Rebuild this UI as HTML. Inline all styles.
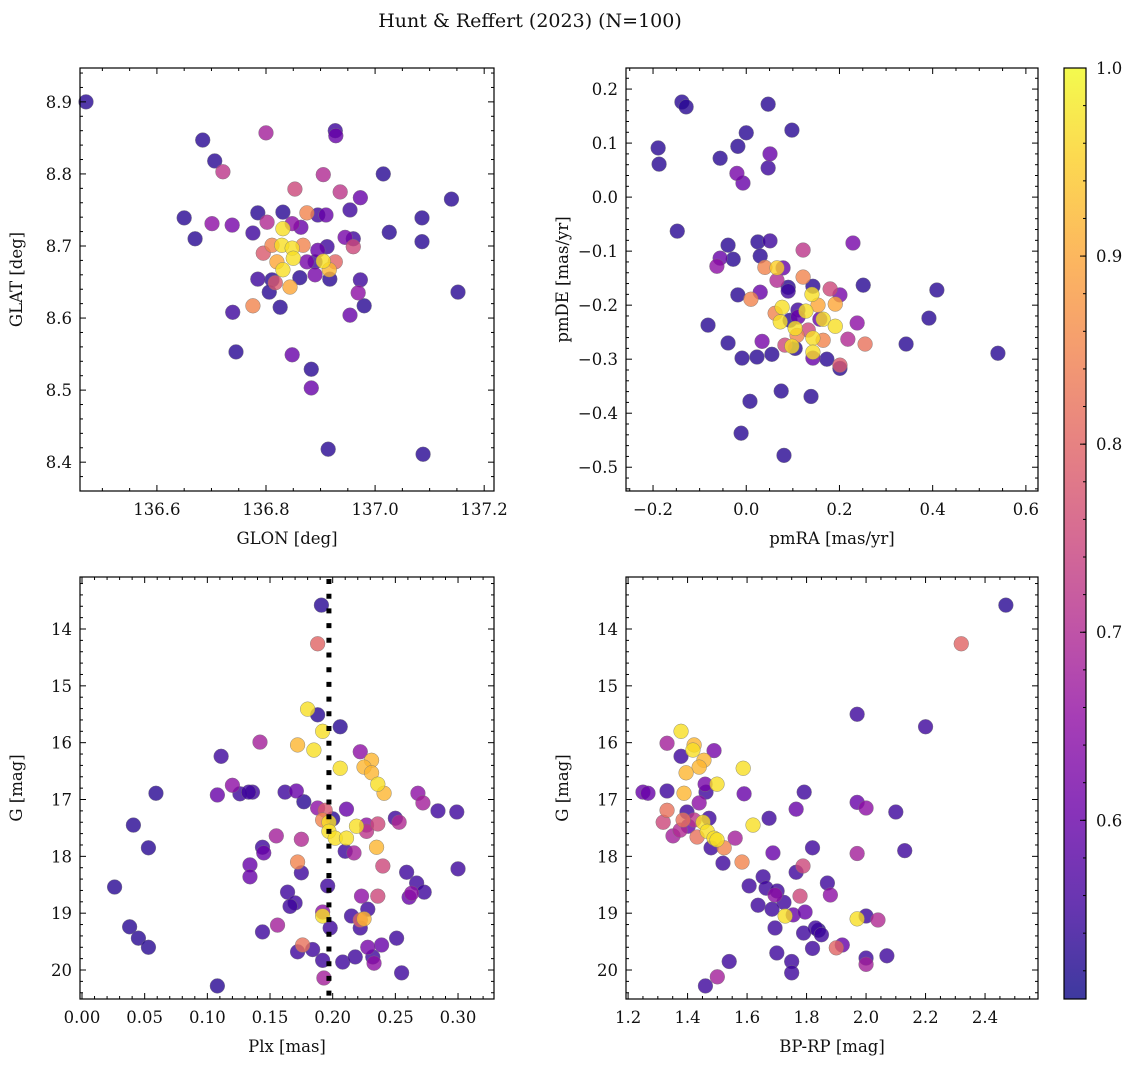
<!DOCTYPE html>
<html><head><meta charset="utf-8">
<style>
html,body{margin:0;padding:0;background:#fff;}
svg{display:block;font-family:"DejaVu Serif","Liberation Serif",serif;}
</style></head>
<body>
<svg id="fig" width="1136" height="1067" viewBox="0 0 1136 1067" xmlns="http://www.w3.org/2000/svg">
<defs>
<linearGradient id="plasma" x1="0" y1="1" x2="0" y2="0">
<stop offset="0" stop-color="#0d0887"/><stop offset="0.1" stop-color="#41049d"/><stop offset="0.2" stop-color="#6a00a8"/><stop offset="0.3" stop-color="#8f0da4"/><stop offset="0.4" stop-color="#b12a90"/><stop offset="0.5" stop-color="#cc4778"/><stop offset="0.6" stop-color="#e16462"/><stop offset="0.7" stop-color="#f2844b"/><stop offset="0.8" stop-color="#fca636"/><stop offset="0.9" stop-color="#fcce25"/><stop offset="1" stop-color="#f0f921"/>
</linearGradient>
</defs>
<text x="530" y="27" text-anchor="middle" font-size="19" fill="#111">Hunt &amp; Reffert (2023) (N=100)</text>
</svg>
<script>
// ---- Panel 1: GLON vs GLAT ----
const glon1 = [136.470,136.684,136.706,136.721,136.800,136.927,136.928,136.905,137.015,136.650,136.701,136.738,136.670,137.086,137.140,137.086,137.152,136.853,136.936,136.973,136.954,136.785,136.831,136.875,136.895,136.910,136.802,136.848,136.864,136.831,136.776,137.026,136.945,136.960,136.960,136.811,136.829,136.848,136.868,136.795,136.895,136.912,136.850,136.820,136.875,136.890,136.905,136.927,136.831,136.811,136.862,136.890,136.916,136.917,136.785,136.817,136.844,136.806,136.973,136.969,136.776,136.826,136.980,136.739,136.954,136.745,136.848,136.883,136.883,136.914,137.088];
const glat1 = [8.900,8.847,8.818,8.803,8.857,8.860,8.853,8.799,8.800,8.739,8.731,8.729,8.710,8.739,8.765,8.706,8.636,8.779,8.775,8.767,8.750,8.746,8.747,8.746,8.743,8.743,8.733,8.731,8.726,8.724,8.718,8.719,8.712,8.710,8.699,8.701,8.701,8.697,8.701,8.690,8.694,8.699,8.683,8.678,8.678,8.678,8.679,8.678,8.667,8.653,8.656,8.660,8.667,8.654,8.654,8.649,8.643,8.636,8.653,8.635,8.617,8.615,8.617,8.608,8.604,8.553,8.549,8.529,8.503,8.418,8.411];
const prob1 = [.53,.53,.53,.72,.68,.55,.6,.7,.53,.53,.65,.62,.53,.53,.53,.53,.53,.75,.72,.6,.55,.53,.53,.85,.55,.6,.7,.65,.6,.97,.55,.53,.62,.55,.75,.85,.97,.97,.85,.78,.6,.55,.97,.9,.62,.55,.97,.8,.97,.53,.53,.62,.92,.53,.55,.78,.9,.53,.55,.65,.85,.53,.53,.55,.6,.53,.6,.53,.6,.53,.53];
// ---- Panel 2: pmRA vs pmDE ----
const pmra2 = [-0.189,-0.187,-0.138,-0.129,0.047,0.000,0.098,-0.018,-0.056,-0.007,0.047,0.051,-0.020,-0.148,-0.082,-0.039,0.025,0.051,-0.056,-0.063,-0.028,0.030,0.122,0.229,0.040,0.066,0.079,0.066,0.090,0.090,0.122,0.143,0.180,0.201,0.251,0.141,-0.018,0.010,0.030,0.191,0.154,0.077,0.062,0.111,0.128,0.073,0.094,0.111,0.158,0.165,0.191,0.238,0.105,0.133,0.109,0.143,0.165,0.218,0.255,0.083,0.098,0.034,-0.039,0.105,0.143,0.143,0.173,-0.009,0.023,0.055,0.201,0.201,0.343,0.392,0.409,0.540,0.008,-0.011,0.075,0.081,0.139];
const pmde2 = [0.091,0.061,0.176,0.167,0.172,0.119,0.124,0.094,0.072,0.026,0.054,0.080,0.044,-0.063,-0.237,-0.089,-0.083,-0.081,-0.113,-0.128,-0.115,-0.109,-0.098,-0.085,-0.130,-0.131,-0.131,-0.154,-0.167,-0.174,-0.148,-0.165,-0.170,-0.181,-0.163,-0.180,-0.181,-0.189,-0.176,-0.198,-0.200,-0.204,-0.215,-0.209,-0.211,-0.231,-0.228,-0.222,-0.226,-0.226,-0.239,-0.233,-0.243,-0.246,-0.256,-0.261,-0.265,-0.263,-0.272,-0.274,-0.276,-0.267,-0.270,-0.280,-0.287,-0.298,-0.300,-0.298,-0.296,-0.291,-0.311,-0.317,-0.272,-0.224,-0.172,-0.289,-0.378,-0.437,-0.359,-0.478,-0.369];
const prob2 = [.53,.53,.53,.53,.53,.53,.53,.53,.53,.6,.55,.6,.62,.53,.53,.53,.53,.55,.6,.65,.53,.53,.72,.62,.85,.95,.6,.7,.53,.55,.85,.53,.75,.62,.53,.97,.53,.85,.6,.9,.9,.97,.85,.55,.97,.97,.53,.6,.6,.97,.97,.65,.97,.75,.85,.97,.85,.7,.82,.75,.97,.62,.53,.53,.97,.6,.53,.53,.53,.53,.78,.53,.53,.53,.53,.53,.53,.53,.53,.53,.53];
// ---- Panel 3: Plx vs G ----
const plx3 = [0.191,0.188,0.180,0.188,0.192,0.206,0.142,0.172,0.185,0.222,0.231,0.206,0.225,0.231,0.236,0.241,0.268,0.272,0.136,0.162,0.171,0.177,0.188,0.194,0.211,0.200,0.192,0.197,0.219,0.227,0.236,0.227,0.250,0.253,0.197,0.202,0.211,0.155,0.175,0.210,0.217,0.235,0.144,0.145,0.134,0.172,0.175,0.240,0.259,0.134,0.267,0.273,0.263,0.261,0.196,0.164,0.223,0.236,0.170,0.166,0.228,0.192,0.192,0.215,0.222,0.225,0.222,0.198,0.144,0.156,0.251,0.176,0.172,0.184,0.192,0.208,0.218,0.228,0.239,0.232,0.233,0.255,0.193,0.120,0.111,0.108,0.126,0.133,0.059,0.041,0.053,0.026,0.038,0.045,0.053,0.108,0.299,0.300,0.284];
const gmag3 = [13.58,14.26,15.41,15.51,15.80,15.72,15.99,16.04,16.13,16.16,16.31,16.45,16.43,16.53,16.73,16.89,16.89,17.06,16.87,16.87,16.85,17.04,17.15,17.19,17.17,17.34,17.36,17.40,17.47,17.45,17.43,17.56,17.33,17.40,17.56,17.68,17.68,17.64,17.70,17.91,17.94,17.84,17.84,17.94,18.15,18.10,18.29,18.17,18.28,18.36,18.47,18.63,18.65,18.72,18.52,18.63,18.70,18.70,18.82,18.88,18.93,18.98,19.05,19.05,19.12,19.10,19.26,19.26,19.33,19.21,19.44,19.56,19.68,19.64,19.83,19.86,19.77,19.60,19.56,19.77,19.88,20.05,20.14,16.75,16.24,16.92,16.90,16.87,16.89,17.45,17.85,18.54,19.24,19.44,19.60,20.28,17.22,18.22,17.20];
const prob3 = [.53,.8,.97,.53,.97,.53,.68,.92,.97,.65,.92,.97,.92,.92,.97,.92,.65,.68,.55,.55,.6,.53,.65,.78,.6,.53,.85,.97,.97,.65,.75,.72,.55,.7,.97,.97,.97,.68,.7,.55,.68,.92,.55,.6,.6,.85,.55,.75,.55,.6,.55,.55,.65,.6,.55,.55,.65,.75,.55,.55,.55,.65,.97,.55,.8,.92,.55,.55,.55,.68,.55,.82,.55,.55,.55,.55,.55,.62,.6,.55,.65,.55,.68,.65,.55,.6,.55,.55,.53,.53,.53,.53,.53,.53,.53,.53,.55,.55,.55];
const cutPlx = 0.197;
// ---- Panel 4: BP-RP vs G ----
const bprp4 = [1.378,1.331,1.422,1.418,1.378,1.489,1.455,1.439,1.395,1.587,1.499,1.459,1.250,1.267,1.331,1.388,1.462,1.590,1.792,1.439,1.331,1.398,1.472,1.385,1.318,1.422,1.402,1.375,1.452,1.620,1.674,1.765,1.466,1.351,1.432,1.489,1.560,1.499,1.523,1.479,1.583,1.519,1.687,1.765,1.788,1.654,1.607,1.664,1.701,1.694,1.724,1.778,1.637,1.684,1.728,1.755,1.795,1.694,2.470,2.320,1.970,2.200,1.970,2.000,2.100,2.130,1.970,1.820,1.870,1.880,1.830,1.850,1.840,1.920,1.900,1.970,2.040,2.000,2.000,2.000,2.070,1.790,1.700,1.750,1.750,1.460,1.500,1.540,1.820];
const gmag4 = [15.80,16.01,16.04,16.13,16.24,16.14,16.31,16.43,16.53,16.45,16.73,16.73,16.87,16.89,16.85,16.89,16.87,16.90,16.87,17.06,17.19,17.22,17.33,17.36,17.40,17.36,17.47,17.54,17.40,17.45,17.33,17.17,17.56,17.64,17.66,17.68,17.68,17.71,17.85,17.85,18.10,18.12,17.94,18.28,18.17,18.36,18.52,18.56,18.61,18.68,18.81,18.70,18.86,18.93,19.05,19.03,18.98,19.26,13.58,14.26,15.50,15.72,17.05,17.15,17.22,17.90,17.95,17.85,18.47,18.68,19.26,19.38,19.30,19.56,19.61,19.10,19.12,19.05,19.79,19.90,19.75,19.35,19.70,19.85,20.05,20.28,20.12,19.85,19.62];
const prob4 = [.97,.68,.92,.97,.55,.62,.92,.92,.92,.97,.97,.62,.6,.6,.55,.92,.55,.6,.55,.65,.82,.55,.55,.82,.75,.72,.6,.7,.97,.97,.55,.6,.97,.68,.82,.97,.68,.97,.85,.55,.85,.55,.6,.55,.75,.55,.55,.55,.55,.65,.55,.75,.55,.55,.97,.6,.6,.55,.53,.8,.55,.55,.6,.65,.55,.55,.68,.55,.55,.65,.55,.55,.53,.6,.8,.97,.7,.55,.55,.68,.55,.55,.55,.55,.55,.55,.68,.55,.55];
// ---- Colorbar ----
const cbTicks = [0.6,0.7,0.8,0.9,1.0];
const cbMin = 0.505, cbMax = 1.0;

const NS = "http://www.w3.org/2000/svg";
const svg = document.getElementById('fig');
function mk(tag, attrs, parent){ const e=document.createElementNS(NS,tag); for(const k in attrs) e.setAttribute(k,attrs[k]); (parent||svg).appendChild(e); return e; }

const stops = [[13,8,135],[65,4,157],[106,0,168],[143,13,164],[177,42,144],[204,71,120],[225,100,98],[242,132,75],[252,166,54],[252,206,37],[240,249,33]];
function plasma(p){
  let t=(p-cbMin)/(cbMax-cbMin); t=Math.max(0,Math.min(1,t))*10;
  const i=Math.min(9,Math.floor(t)), f=t-i;
  const a=stops[i], b=stops[i+1];
  return 'rgb('+[0,1,2].map(k=>Math.round(a[k]+(b[k]-a[k])*f)).join(',')+')';
}
function fmt(v,d){ const s=Math.abs(v).toFixed(d); return (v< -1e-9?'\u2212':'')+s; }

function panel(cfg, xs, ys, ps){
  const g = mk('g',{});
  
  
  const X = v => cfg.L + (v - cfg.x0)/(cfg.x1-cfg.x0)*(cfg.R-cfg.L);
  const Y = v => cfg.B - (v - cfg.y0)/(cfg.y1-cfg.y0)*(cfg.B-cfg.T);
  const idx = ps.map((p,i)=>i).sort((a,b)=>ps[a]-ps[b]);
  const pg = mk('g',{},g);
  
  
  idx.forEach(i=>{
    const c = mk('circle',{cx:X(xs[i]),cy:Y(ys[i]),r:7.4,fill:plasma(ps[i]),'fill-opacity':0.8,stroke:'#777','stroke-width':0.5,'stroke-opacity':0.8},pg);
    
    
  });
  if(cfg.extra) cfg.extra(g,X,Y);
  const fr = mk('rect',{x:cfg.L,y:cfg.T,width:cfg.R-cfg.L,height:cfg.B-cfg.T,fill:'none',stroke:'#000','stroke-width':1.2},g);
  
  
  const lo=Math.min(cfg.x0,cfg.x1), hi=Math.max(cfg.x0,cfg.x1);
  for(let k=Math.ceil(lo/cfg.xmin-1e-6); k*cfg.xmin<=hi+1e-9; k++){
    const v=k*cfg.xmin, px=X(v);
    const maj = Math.abs(v/cfg.xmaj - Math.round(v/cfg.xmaj))<1e-6;
    const len = maj?6:3;
    mk('line',{x1:px,x2:px,y1:cfg.B,y2:cfg.B-len,stroke:'#000','stroke-width':1},g);
    mk('line',{x1:px,x2:px,y1:cfg.T,y2:cfg.T+len,stroke:'#000','stroke-width':1},g);
    if(maj){
      const t = mk('text',{x:px,y:cfg.B+24,'text-anchor':'middle','font-size':16.5,fill:'#111'},g);
      t.textContent = fmt(v,cfg.xd);
      
      
    }
  }
  const ylo=Math.min(cfg.y0,cfg.y1), yhi=Math.max(cfg.y0,cfg.y1);
  for(let k=Math.ceil(ylo/cfg.ymin-1e-6); k*cfg.ymin<=yhi+1e-9; k++){
    const v=k*cfg.ymin, py=Y(v);
    const maj = Math.abs(v/cfg.ymaj - Math.round(v/cfg.ymaj))<1e-6;
    const len = maj?6:3;
    mk('line',{x1:cfg.L,x2:cfg.L+len,y1:py,y2:py,stroke:'#000','stroke-width':1},g);
    mk('line',{x1:cfg.R,x2:cfg.R-len,y1:py,y2:py,stroke:'#000','stroke-width':1},g);
    if(maj){
      const t = mk('text',{x:cfg.L-8,y:py+6,'text-anchor':'end','font-size':16.5,fill:'#111'},g);
      t.textContent = fmt(v,cfg.yd);
      
      
    }
  }
  const xl = mk('text',{x:(cfg.L+cfg.R)/2,y:cfg.B+53,'text-anchor':'middle','font-size':16.5,fill:'#111'},g);
  xl.textContent = cfg.xlabel;
  
  
  const yx = cfg.L-58, yy=(cfg.T+cfg.B)/2;
  const yl = mk('text',{x:yx,y:yy,'text-anchor':'middle','font-size':16.5,fill:'#111',transform:'rotate(-90 '+yx+' '+yy+')'},g);
  yl.textContent = cfg.ylabel;
  
  
}

panel({name:'glon-glat-panel',L:80,R:494,T:68,B:491,x0:136.459,x1:137.218,y0:8.36,y1:8.947,xmaj:0.2,xmin:0.05,ymaj:0.1,ymin:0.02,xd:1,yd:1,xlabel:'GLON [deg]',ylabel:'GLAT [deg]'}, glon1, glat1, prob1);
panel({name:'proper-motion-panel',L:626,R:1038,T:68,B:491,x0:-0.258,x1:0.626,y0:-0.544,y1:0.239,xmaj:0.2,xmin:0.05,ymaj:0.1,ymin:0.02,xd:1,yd:1,xlabel:'pmRA [mas/yr]',ylabel:'pmDE [mas/yr]'}, pmra2, pmde2, prob2);
panel({name:'parallax-panel',L:80,R:494,T:577,B:999,x0:-0.0016,x1:0.3287,y0:20.51,y1:13.085,xmaj:0.05,xmin:0.01,ymaj:1,ymin:0.2,xd:2,yd:0,xlabel:'Plx [mas]',ylabel:'G [mag]',
  extra:(g,X,Y)=>{
    const l = mk('line',{x1:X(cutPlx),x2:X(cutPlx),y1:579,y2:999,stroke:'#000','stroke-width':5,'stroke-dasharray':'5 9.7'},g);
    
    
  }}, plx3, gmag3, prob3);
panel({name:'cmd-panel',L:626,R:1038,T:577,B:999,x0:1.193,x1:2.578,y0:20.51,y1:13.085,xmaj:0.2,xmin:0.05,ymaj:1,ymin:0.2,xd:1,yd:0,xlabel:'BP-RP [mag]',ylabel:'G [mag]'}, bprp4, gmag4, prob4);

const cb = mk('g',{});


const cL=1064,cR=1086,cT=68,cB=999;
const cbr = mk('rect',{x:cL,y:cT,width:cR-cL,height:cB-cT,fill:'url(#plasma)','fill-opacity':0.8},cb);


mk('rect',{x:cL,y:cT,width:cR-cL,height:cB-cT,fill:'none',stroke:'#000','stroke-width':1.2},cb);
const CY = v => cB - (v-cbMin)/(cbMax-cbMin)*(cB-cT);
for(let k=Math.ceil(cbMin/0.02); k*0.02<=cbMax+1e-9; k++){
  const py=CY(k*0.02);
  mk('line',{x1:cR,x2:cR-3,y1:py,y2:py,stroke:'#000','stroke-width':1},cb);
}
cbTicks.forEach(v=>{
  const py=CY(v);
  mk('line',{x1:cR,x2:cR-6,y1:py,y2:py,stroke:'#000','stroke-width':1},cb);
  const t = mk('text',{x:cR+10,y:py+6,'font-size':16.5,fill:'#111'},cb);
  t.textContent = v.toFixed(1);
  
  
});
</script>
</body></html>
